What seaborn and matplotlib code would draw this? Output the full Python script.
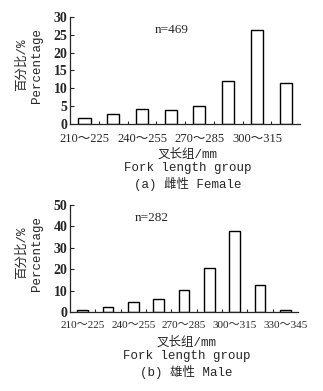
import numpy as np
import pandas as pd
import seaborn as sns
import matplotlib.pyplot as plt
from matplotlib.ticker import FixedLocator

sns.set_style('ticks')
plt.rcParams['font.family'] = ['Liberation Serif', 'Noto Sans CJK SC']

# data
female_groups = ['210～225', '225～240', '240～255', '255～270', '270～285',
                 '285～300', '300～315', '315～330']
female_pct = [1.7, 2.7, 4.1, 3.8, 4.9, 12.1, 26.2, 11.6]
male_groups = female_groups + ['330～345']
male_pct = [1.0, 2.3, 4.9, 6.0, 10.3, 20.6, 37.6, 12.4, 1.0]

num_font = ['Liberation Serif', 'Noto Sans CJK SC']
mono_font = ['Liberation Mono', 'Noto Sans CJK SC']

fig = plt.figure(figsize=(3.23, 3.91), dpi=100)
ax1 = fig.add_axes([0.217, 0.683, 0.712, 0.274])
ax2 = fig.add_axes([0.217, 0.202, 0.706, 0.274])


def draw(ax, groups, pct, ymax, ystep, ntext, caption, xfs):
    df = pd.DataFrame({'group': groups, 'pct': pct})
    sns.barplot(ax=ax, data=df, x='group', y='pct', color='white',
                edgecolor='black', linewidth=1.0, width=0.42, saturation=1)
    n = len(groups)
    ax.set_xlim(-0.5, n - 0.5)
    ax.set_ylim(0, ymax)
    ax.set_yticks(np.arange(0, ymax + 1, ystep))
    ax.tick_params(axis='y', direction='in', length=3, width=0.8, pad=2,
                   labelsize=10)
    for lab in ax.get_yticklabels():
        lab.set_fontweight('bold')
        lab.set_family(num_font)
    major = list(range(0, n, 2))
    ax.set_xticks(major)
    ax.set_xticklabels([groups[i] for i in major], family=num_font,
                       fontsize=xfs)
    ax.tick_params(axis='x', which='major', length=0, pad=6.5)
    ax.xaxis.set_minor_locator(FixedLocator(np.arange(0.5, n - 0.5, 1)))
    ax.tick_params(axis='x', which='minor', direction='in', length=2,
                   width=0.8)
    sns.despine(ax=ax)
    for s in ['left', 'bottom']:
        ax.spines[s].set_linewidth(0.9)
    ax.set_xlabel('')
    ax.set_ylabel('')
    ax.text(0.44 if n == 8 else 0.36, 0.88, ntext, transform=ax.transAxes,
            ha='center', va='center', family=num_font, fontsize=9.5)
    # two-line axis labels, placed by hand
    pos = ax.get_position()
    cx = pos.x0 + pos.width * 0.51
    fig.text(cx, pos.y0 - 0.078, '叉长组/mm', ha='center', va='center',
             family=mono_font, fontsize=9)
    fig.text(cx, pos.y0 - 0.112, 'Fork length group', ha='center',
             va='center', family=mono_font, fontsize=9)
    fig.text(cx, pos.y0 - 0.153, caption, ha='center', va='center',
             family=mono_font, fontsize=9)
    cy = pos.y0 + pos.height * 0.55
    fig.text(0.068, cy, '百分比/%', rotation=90, ha='center', va='center',
             family=mono_font, fontsize=9)
    fig.text(0.115, cy, 'Percentage', rotation=90, ha='center',
             va='center', family=mono_font, fontsize=9)


draw(ax1, female_groups, female_pct, 30, 5, 'n=469', '(a) 雌性 Female', 9)
draw(ax2, male_groups, male_pct, 50, 10, 'n=282', '(b) 雄性 Male', 8)

fig.savefig('out.png', dpi=100)
